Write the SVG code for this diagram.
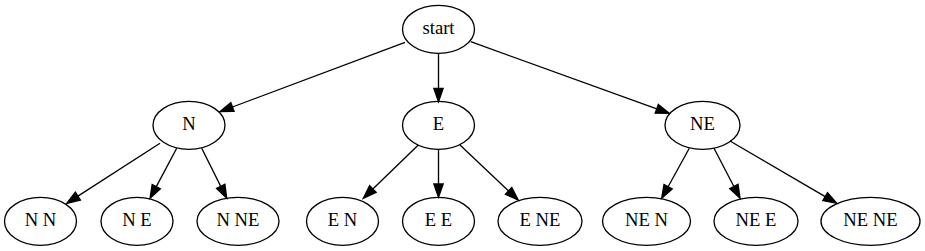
<svg xmlns="http://www.w3.org/2000/svg" width="925" height="251" viewBox="0 0 925 251">
<style>
.node ellipse{fill:none;stroke:#000;stroke-width:1.33}
.node text{font-size:18.67px;text-anchor:middle;fill:#000}
.edges path{fill:none;stroke:#000;stroke-width:1.33}
</style>
<defs>
<marker id="arr" markerUnits="userSpaceOnUse" markerWidth="14" markerHeight="10" refX="0" refY="5" orient="auto" overflow="visible">
<path d="M0,0.33 L13.3,5 L0,9.67 Z" fill="#000" stroke="#000" stroke-width="1.33"/>
</marker>
</defs>
<rect width="925" height="251" fill="#fff"/>
<g class="edges">
<path d="M405,42.3 L232.45,107" marker-end="url(#arr)"/>
<path d="M438.5,53.3 L438.5,88.4" marker-end="url(#arr)"/>
<path d="M470.7,41.7 L656.8,108.8" marker-end="url(#arr)"/>
<path d="M160,143.3 L77.9,196.1" marker-end="url(#arr)"/>
<path d="M176.7,148.3 L156.3,186.6" marker-end="url(#arr)"/>
<path d="M201.7,148.3 L220.75,186.4" marker-end="url(#arr)"/>
<path d="M418.3,145 L372.85,189" marker-end="url(#arr)"/>
<path d="M438.5,149.3 L438.5,184" marker-end="url(#arr)"/>
<path d="M460,145 L508.6,190.9" marker-end="url(#arr)"/>
<path d="M689.3,148.3 L668.1,186.7" marker-end="url(#arr)"/>
<path d="M714,148.3 L733.9,186.5" marker-end="url(#arr)"/>
<path d="M730,141 L825.2,196.6" marker-end="url(#arr)"/>
</g>
<g font-family="Liberation Serif, Times New Roman, serif">
<g id="start" class="node"><ellipse cx="438.5" cy="29.3" rx="36" ry="24"/><text x="438.5" y="34.3">start</text></g>
<g id="N" class="node"><ellipse cx="189" cy="125.3" rx="36" ry="24"/><text x="189" y="130.3">N</text></g>
<g id="E" class="node"><ellipse cx="438.5" cy="125.3" rx="36" ry="24"/><text x="438.5" y="130.3">E</text></g>
<g id="NE" class="node"><ellipse cx="702.5" cy="125.3" rx="37.5" ry="24"/><text x="702.5" y="130.3">NE</text></g>
<g id="N_N" class="node"><ellipse cx="40.5" cy="221.3" rx="36" ry="24"/><text x="40.5" y="226.3">N N</text></g>
<g id="N_E" class="node"><ellipse cx="137" cy="221.3" rx="36" ry="24"/><text x="137" y="226.3">N E</text></g>
<g id="N_NE" class="node"><ellipse cx="238" cy="221.3" rx="41" ry="24"/><text x="238" y="226.3">N NE</text></g>
<g id="E_N" class="node"><ellipse cx="342.5" cy="221.3" rx="36" ry="24"/><text x="342.5" y="226.3">E N</text></g>
<g id="E_E" class="node"><ellipse cx="438.5" cy="221.3" rx="36" ry="24"/><text x="438.5" y="226.3">E E</text></g>
<g id="E_NE" class="node"><ellipse cx="540" cy="221.3" rx="42" ry="24"/><text x="540" y="226.3">E NE</text></g>
<g id="NE_N" class="node"><ellipse cx="646.5" cy="221.3" rx="44" ry="24"/><text x="646.5" y="226.3">NE N</text></g>
<g id="NE_E" class="node"><ellipse cx="756" cy="221.3" rx="42" ry="24"/><text x="756" y="226.3">NE E</text></g>
<g id="NE_NE" class="node"><ellipse cx="870.5" cy="221.3" rx="49.5" ry="24"/><text x="870.5" y="226.3">NE NE</text></g>
</g>
</svg>
